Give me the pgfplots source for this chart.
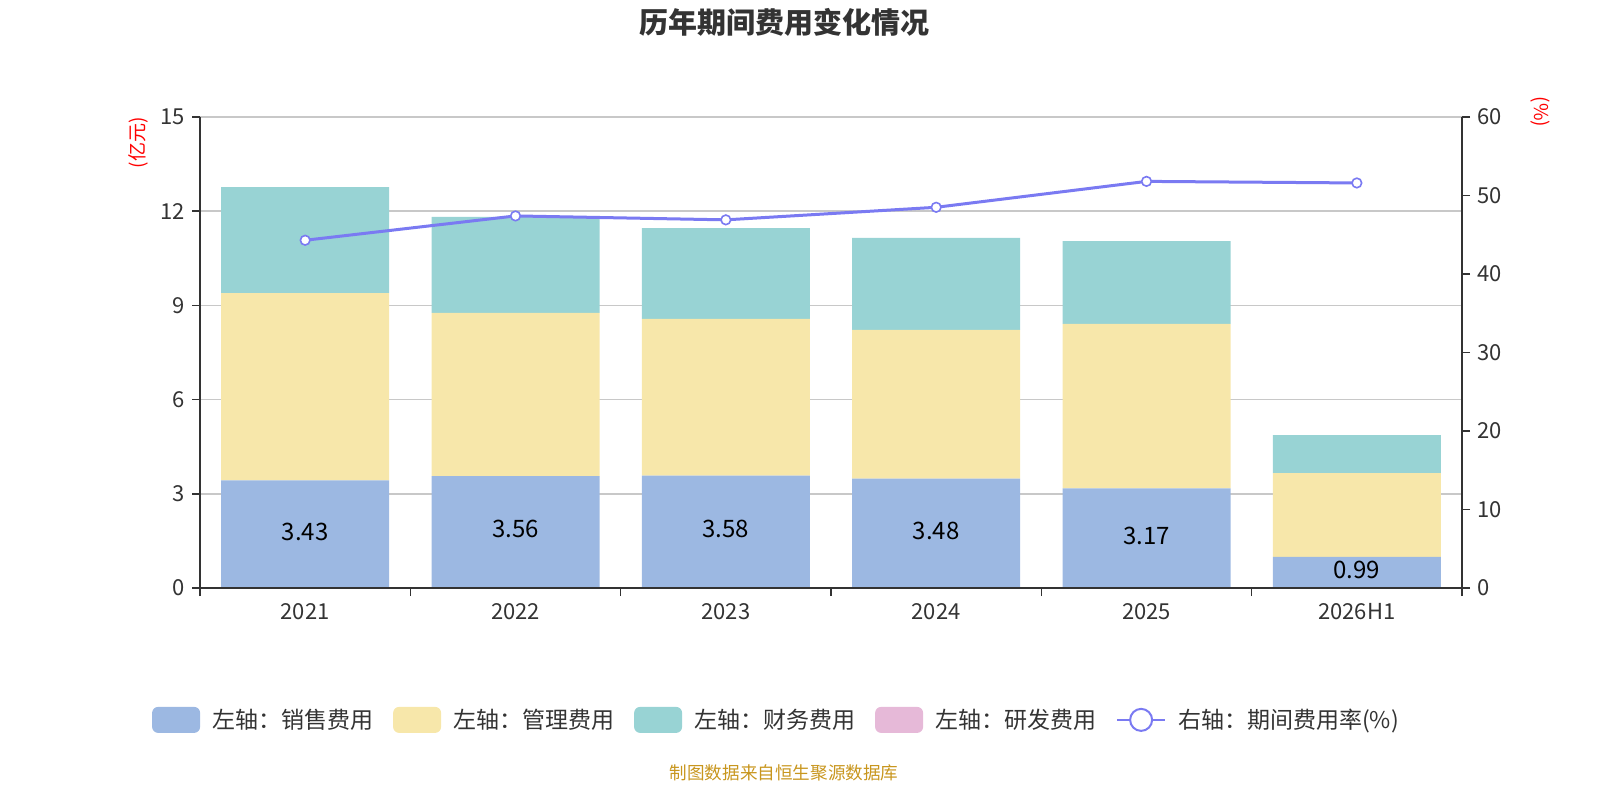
\documentclass[border=0pt]{standalone}
\usepackage{pgfplots}
\pgfplotsset{compat=1.18}
\usepackage{fontspec}
\setmainfont{Noto Sans CJK SC}
\definecolor{cSales}{HTML}{9CB8E2}
\definecolor{cMgmt}{HTML}{F7E7AA}
\definecolor{cFin}{HTML}{98D3D4}
\definecolor{cRD}{HTML}{E6B9D8}
\definecolor{cLine}{HTML}{7A7AF2}
\definecolor{cAxis}{HTML}{333333}
\definecolor{cGrid}{HTML}{C8C8C8}
\definecolor{cFoot}{HTML}{C8961E}
\begin{document}
\begin{tikzpicture}[x=1pt,y=1pt]
\node[font=\fontsize{14.5}{17}\selectfont\bfseries, text=cAxis] at (392,389) {历年期间费用变化情况};
\node[font=\fontsize{9.5}{11}\selectfont, text=red, rotate=90] at (69,328.5) {(亿元)};
\node[font=\fontsize{9.5}{11}\selectfont, text=red, rotate=-90] at (770,344) {(\%)};
\node[font=\fontsize{8.8}{10}\selectfont, text=cFoot] at (392,13.5) {制图数据来自恒生聚源数据库};
% left axis with stacked bars
\begin{axis}[
  at={(100pt,106pt)}, anchor=south west, scale only axis,
  width=631pt, height=235.5pt,
  xmin=-0.5, xmax=5.5, ymin=0, ymax=15,
  ybar stacked, bar width=84pt,
  axis y line*=left, axis x line=none,
  axis line style={cAxis, line width=0.8pt},
  xtick=\empty,
  ytick={0,3,...,15},
  tick align=outside, major tick length=4pt,
  tick style={cAxis, line width=0.8pt},
  ymajorgrids, major grid style={cGrid, line width=0.8pt},
  tick label style={font=\fontsize{11}{13}\selectfont, text=cAxis},
  /pgf/number format/assume math mode=true,
  legend columns=5,
  legend style={at={(0.4576,-0.28)}, anchor=center, draw=none, fill=none,
    font=\fontsize{11.5}{13}\selectfont, text=cAxis,
    /tikz/every odd column/.append style={column sep=4pt},
    /tikz/every even column/.append style={column sep=8pt}},
  legend cell align=left,
  legend image code/.code={\fill[#1, rounded corners=3pt] (0pt,-6.5pt) rectangle (24pt,6.5pt);},
]
\addplot[fill=cSales, draw=none] coordinates {(0,3.43) (1,3.56) (2,3.58) (3,3.48) (4,3.17) (5,0.99)};
\addlegendentry{左轴：销售费用}
\addplot[fill=cMgmt, draw=none] coordinates {(0,5.96) (1,5.20) (2,4.99) (3,4.74) (4,5.24) (5,2.67)};
\addlegendentry{左轴：管理费用}
\addplot[fill=cFin, draw=none] coordinates {(0,3.38) (1,3.06) (2,2.89) (3,2.93) (4,2.64) (5,1.21)};
\addlegendentry{左轴：财务费用}
\addplot[fill=cRD, draw=none] coordinates {(0,0) (1,0) (2,0) (3,0) (4,0) (5,0)};
\addlegendentry{左轴：研发费用}
\addlegendimage{legend image code/.code={
  \draw[cLine, line width=1pt] (0pt,0pt) -- (24pt,0pt);
  \draw[cLine, fill=white, line width=1pt] (12pt,0pt) circle (5.5pt);}}
\addlegendentry{右轴：期间费用率(\%)}
\end{axis}
% hidden axis for value labels
\begin{axis}[
  at={(100pt,106pt)}, anchor=south west, scale only axis,
  width=631pt, height=235.5pt,
  xmin=-0.5, xmax=5.5, ymin=0, ymax=15,
  hide axis,
]
\addplot[draw=none, mark=none, nodes near coords, point meta=explicit symbolic,
  every node near coord/.append style={anchor=center, font=\fontsize{12}{14}\selectfont, text=black}]
  coordinates {(0,1.80)[3.43] (1,1.87)[3.56] (2,1.88)[3.58] (3,1.81)[3.48] (4,1.65)[3.17] (5,0.58)[0.99]};
\end{axis}
% right axis with line, and the category axis
\begin{axis}[
  at={(100pt,106pt)}, anchor=south west, scale only axis,
  width=631pt, height=235.5pt,
  xmin=-0.5, xmax=5.5, ymin=0, ymax=60,
  axis y line*=right, axis x line*=bottom,
  axis line style={cAxis, line width=0.8pt},
  xtick={-0.5,0.5,1.5,2.5,3.5,4.5,5.5}, xticklabels={},
  extra x ticks={0,1,2,3,4,5},
  extra x tick labels={2021,2022,2023,2024,2025,2026H1},
  extra x tick style={major tick length=0pt},
  xticklabel style={yshift=-4pt},
  ytick={0,10,...,60},
  tick align=outside, major tick length=4pt,
  tick style={cAxis, line width=0.8pt},
  tick label style={font=\fontsize{11}{13}\selectfont, text=cAxis},
  /pgf/number format/assume math mode=true,
]
\addplot[cLine, line width=1.5pt, mark=*, mark size=2.4pt,
  mark options={fill=white, draw=cLine, line width=0.8pt}]
  coordinates {(0,44.3) (1,47.4) (2,46.9) (3,48.5) (4,51.8) (5,51.6)};
\end{axis}
\pgfresetboundingbox
\path[use as bounding box] (0,0) rectangle (800,400);
\end{tikzpicture}
\end{document}
